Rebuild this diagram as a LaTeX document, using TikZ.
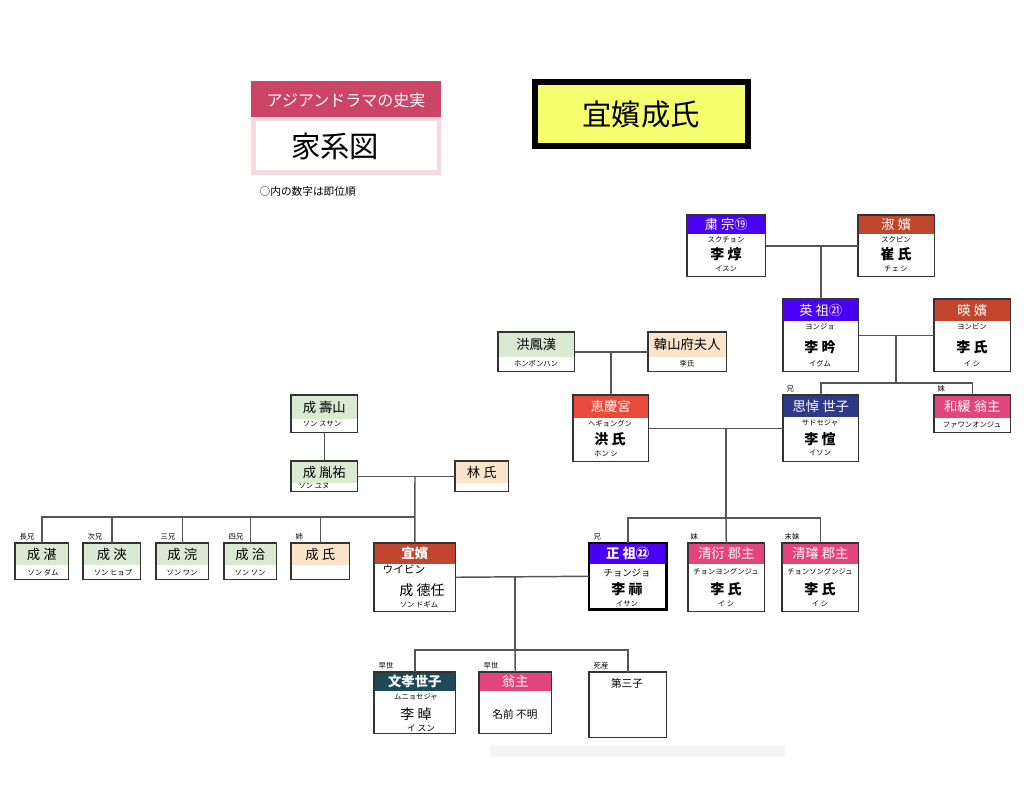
\documentclass[tikz,border=0pt]{standalone}
\usepackage{fontspec}
\setmainfont{Noto Sans CJK JP}
\usetikzlibrary{calc}

\definecolor{kingblue}{HTML}{4A00F5}
\definecolor{concred}{HTML}{C2452D}
\definecolor{crownblue}{HTML}{2E3A87}
\definecolor{princess}{HTML}{E2447C}
\definecolor{hyered}{HTML}{E84A3C}
\definecolor{famgreen}{HTML}{D9EAD3}
\definecolor{peach}{HTML}{FCE4CC}
\definecolor{teal}{HTML}{1E4A57}
\definecolor{titlepink}{HTML}{CC4466}
\definecolor{lightpink}{HTML}{F9D9E0}
\definecolor{lemon}{HTML}{F5FF6E}
\definecolor{lineg}{HTML}{555555}

\tikzset{
  pframe/.style={inner sep=0pt, anchor=north west},
  boxline/.style={draw=black!80, line width=0.9pt},
  link/.style={draw=lineg, line width=1.1pt},
  hdw/.style={text=white, font=\fontsize{10}{10}\selectfont},
  hdk/.style={text=black, font=\fontsize{10}{10}\selectfont},
  kana/.style={font=\fontsize{5.5}{6}\selectfont},
  nm/.style={font=\bfseries\fontsize{10.5}{11}\selectfont},
  rel/.style={font=\fontsize{5.5}{6}\selectfont, anchor=west},
}

% name, x, y, width, height, head colour, head height, head style, head text
\newcommand\pbox[9]{%
  \node[pframe, minimum width=#4*0.75pt, minimum height=#5*0.75pt] (#1) at (#2,#3) {};
  \fill[#6] (#1.north west) rectangle ($(#1.north east)+(0,#7)$);
  \draw[boxline] (#1.north west) rectangle (#1.south east);
  \node[#8] at ($(#1.north)+(0,#7/2)$) {#9};}

\begin{document}
\begin{tikzpicture}[x=0.75pt,y=-0.75pt]
  \useasboundingbox (0,0) rectangle (1024,807);

  % titles
  \fill[titlepink] (251,81) rectangle (441,117);
  \node[text=white, font=\fontsize{12}{12}\selectfont] (sub) at (346,100) {アジアンドラマの史実};
  \fill[lightpink] (251,117) rectangle (441,175);
  \fill[white] (256,121) rectangle (437,170);
  \node[font=\fontsize{22}{22}\selectfont] (kakei) at (335,146) {家系図};
  \node[font=\fontsize{8}{8}\selectfont, anchor=west] (note) at (255,191) {○内の数字は即位順};
  \draw[line width=4.5pt, fill=lemon] (535,82) rectangle (748,146);
  \node[font=\fontsize{22}{22}\selectfont] (title) at (641,114) {宜嬪成氏};
  \fill[black!4] (490,745) rectangle (785,757);

  % royal line
  \pbox{sukjong}{687}{215}{78}{61}{kingblue}{19}{hdw}{粛 宗⑲}
  \node[kana] at (726,240) {スクチョン};
  \node[nm] at (726,254) {李 焞};
  \node[kana] at (726,269) {イスン};
  \pbox{sukbin}{858}{215}{76}{61}{concred}{19}{hdw}{淑 嬪}
  \node[kana] at (896,240) {スクピン};
  \node[nm] at (896,254) {崔 氏};
  \node[kana] at (896,269) {チェ シ};

  \pbox{yeongjo}{783}{299}{75}{72}{kingblue}{22}{hdw}{英 祖㉑}
  \node[kana] at (820,327) {ヨンジョ};
  \node[nm] at (820,347) {李 昑};
  \node[kana] at (820,364) {イグム};
  \pbox{yeongbin}{934}{299}{76}{72}{concred}{22}{hdw}{暎 嬪}
  \node[kana] at (972,327) {ヨンビン};
  \node[nm] at (972,347) {李 氏};
  \node[kana] at (972,364) {イ シ};

  \pbox{sado}{783}{395}{75}{66}{crownblue}{22}{hdw}{思悼 世子}
  \node[kana] at (820,423) {サドセジャ};
  \node[nm] at (820,439) {李 愃};
  \node[kana] at (820,453) {イソン};
  \node[rel] at (782,389) {兄};
  \pbox{hwawan}{934}{395}{76}{37}{princess}{23}{hdw}{和緩 翁主}
  \node[kana] at (972,425) {ファワンオンジュ};
  \node[rel] at (933,389) {妹};

  % Hong family
  \pbox{hongbh}{498}{332}{76}{39}{famgreen}{25}{hdk}{洪鳳漢}
  \node[kana] at (536,364) {ホンボンハン};
  \pbox{hansan}{648}{332}{78}{39}{peach}{25}{hdk}{韓山府夫人}
  \node[kana] at (687,364) {李氏};
  \pbox{hyegyeong}{573}{395}{75}{66}{hyered}{23}{hdw}{恵慶宮}
  \node[kana] at (610,424) {ヘギョングン};
  \node[nm] at (610,439) {洪 氏};
  \node[kana] at (606,454) {ホン シ};

  \pbox{jeongjo}{589}{543}{77}{66}{kingblue}{21}{hdw}{\bfseries 正 祖㉒}
  \draw[line width=1.6pt] (jeongjo.north west) rectangle (jeongjo.south east);
  \node[kana] at (627,573) {\fontsize{7}{7}\selectfont チョンジョ};
  \node[nm] at (627,589) {李 祘};
  \node[kana] at (627,604) {イサン};
  \node[rel] at (589,537) {兄};
  \pbox{cheongyeon}{688}{543}{76}{68}{princess}{21}{hdw}{清衍 郡主}
  \node[kana] at (726,572) {チョンヨングンジュ};
  \node[nm] at (726,589) {李 氏};
  \node[kana] at (726,604) {イ シ};
  \node[rel] at (686,537) {妹};
  \pbox{cheongseon}{782}{543}{76}{68}{princess}{21}{hdw}{清璿 郡主}
  \node[kana] at (820,572) {チョンソングンジュ};
  \node[nm] at (820,589) {李 氏};
  \node[kana] at (820,604) {イ シ};
  \node[rel] at (780,537) {末妹};

  % Seong family
  \pbox{susan}{291}{395}{66}{37}{famgreen}{24}{hdk}{成 壽山}
  \node[kana] at (322,424) {ソン スサン};
  \pbox{yunu}{291}{461}{66}{30}{famgreen}{22}{hdk}{成 胤祐}
  \node[kana] at (314,486) {ソン ユヌ};
  \pbox{imssi}{455}{461}{53}{30}{peach}{22}{hdk}{林 氏}

  \pbox{seongdam}{15}{543}{53}{36}{famgreen}{22}{hdk}{成 湛}
  \node[kana] at (43,573) {ソン ダム};
  \node[rel] at (15,537) {長兄};
  \pbox{seonghyeop}{83}{543}{57}{36}{famgreen}{22}{hdk}{成 浹}
  \node[kana] at (113,573) {ソン ヒョプ};
  \node[rel] at (83,537) {次兄};
  \pbox{seongwan}{156}{543}{52}{36}{famgreen}{22}{hdk}{成 浣}
  \node[kana] at (182,573) {ソン ワン};
  \node[rel] at (156,537) {三兄};
  \pbox{seongson}{224}{543}{52}{36}{famgreen}{22}{hdk}{成 洽}
  \node[kana] at (250,573) {ソン ソン};
  \node[rel] at (224,537) {四兄};
  \pbox{seongssi}{291}{543}{58}{36}{peach}{22}{hdk}{成 氏}
  \node[rel] at (291,537) {姉};

  \pbox{uibin}{374}{543}{81}{68}{concred}{21}{hdw}{\bfseries 宜嬪}
  \node[font=\fontsize{8}{8}\selectfont] at (404,569) {ウイビン};
  \node[font=\fontsize{10.5}{11}\selectfont] at (422,590) {成 德任};
  \node[kana] at (419,605) {ソン ドギム};

  % children
  \pbox{munhyo}{374}{672}{81}{61}{teal}{19}{hdw}{\bfseries 文孝世子}
  \node[kana] at (416,697) {ムニョセジャ};
  \node[font=\fontsize{10.5}{11}\selectfont] at (416,714) {李 晫};
  \node[font=\fontsize{6.5}{7}\selectfont] at (421,728) {イ スン};
  \node[rel] at (374,666) {早世};
  \pbox{ongju}{479}{672}{72}{61}{princess}{19}{hdw}{翁主}
  \node[font=\fontsize{8}{8}\selectfont] at (515,714) {名前 不明};
  \node[rel] at (479,666) {早世};
  \pbox{third}{589}{672}{77}{65}{white}{0}{hdk}{}
  \node[font=\fontsize{8}{8}\selectfont] at (627,683) {第三子};
  \node[rel] at (589,666) {死産};

  % junctions
  \coordinate (j1) at (896,383);
  \coordinate (j2) at (726,518);
  \coordinate (j3) at (415,517);
  \coordinate (j4) at (515,650);

  % connectors
  \draw[link] (sukjong.east) -- (sukbin.west);
  \draw[link] (yeongjo.north) -- (yeongjo.north|-sukjong.east);
  \draw[link] (yeongjo.east) -- (yeongbin.west);
  \draw[link] (j1|-yeongjo.east) -- (j1);
  \draw[link] (sado.north) |- (j1) -| (hwawan.north);
  \draw[link] (hongbh.east) -- (hansan.west);
  \draw[link] (hyegyeong.north) -- (hyegyeong.north|-hongbh.east);
  \draw[link] (hyegyeong.east) -- (sado.west);
  \draw[link] (j2|-sado.west) -- (j2);
  \draw[link] (jeongjo.north) |- (j2) -| (cheongseon.north);
  \draw[link] (j2) -- (cheongyeon.north);
  \draw[link] (susan.south) -- (yunu.north);
  \draw[link] (yunu.east) -- (imssi.west);
  \draw[link] (j3|-yunu.east) -- (uibin.north);
  \draw[link] (seongdam.north) |- (j3);
  \foreach \s in {seonghyeop,seongwan,seongson,seongssi}
    \draw[link] (\s.north) -- (\s.north|-j3);
  \draw[link] (uibin.east) -- (jeongjo.west);
  \draw[link] (j4|-uibin.east) -- (j4);
  \draw[link] (munhyo.north) |- (j4) -| (third.north);
  \draw[link] (j4) -- (ongju.north);
\end{tikzpicture}
\end{document}
